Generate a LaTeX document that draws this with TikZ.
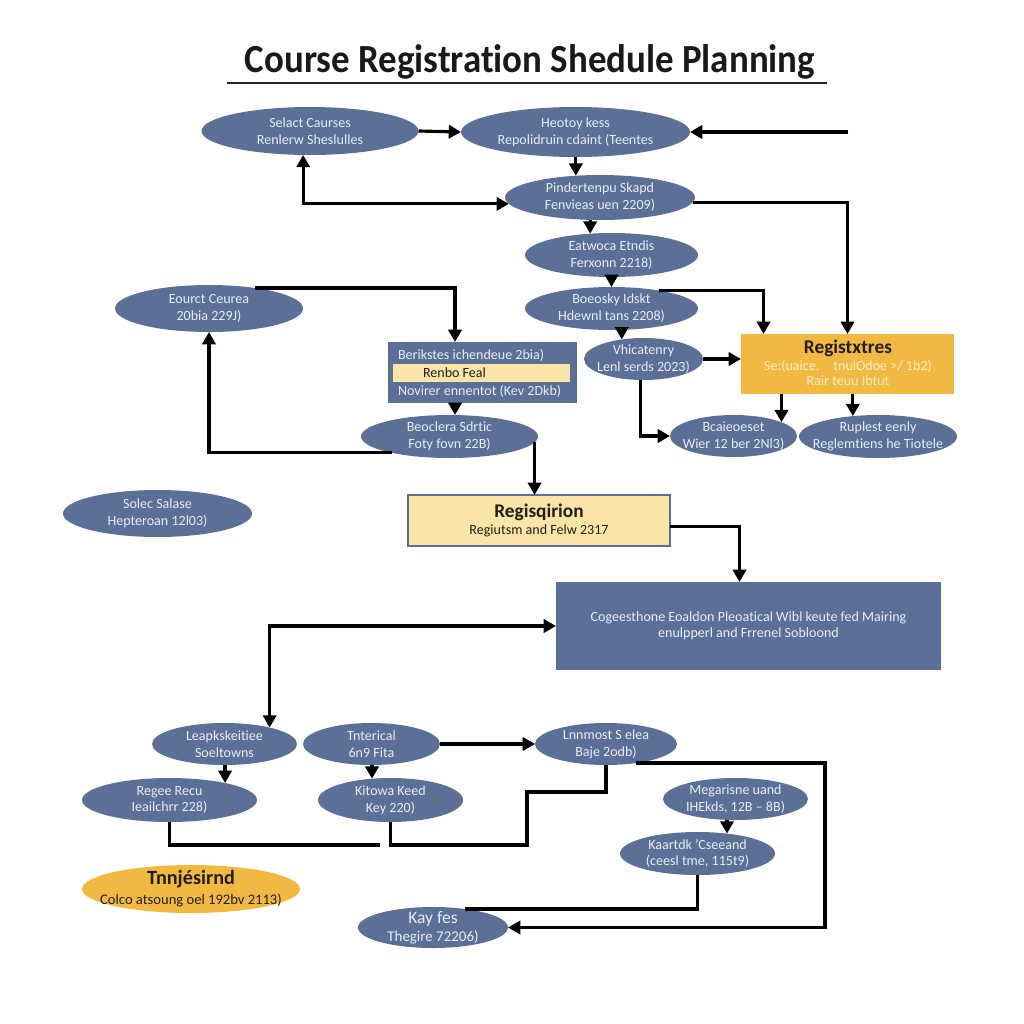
\documentclass[tikz,border=0pt]{standalone}
\usepackage{fontspec}
\setmainfont{Carlito}[Ligatures={TeX,NoCommon}]
\usetikzlibrary{shapes.geometric,arrows.meta}
\definecolor{nb}{RGB}{91,111,151}
\definecolor{ntext}{RGB}{232,236,243}
\definecolor{amber}{RGB}{242,185,66}
\definecolor{pale}{RGB}{251,229,166}
\definecolor{dark}{RGB}{35,30,25}
\definecolor{jlight}{RGB}{252,238,200}
\newcommand\tb[1]{\hbox to 0pt{\hss\vbox to 0pt{\vss\halign{\hfil##\hfil\cr#1\crcr}\vss}\hss}}
\tikzset{
  bub/.style 2 args={ellipse, fill=nb, draw=none, inner sep=0pt, outer sep=0pt,
    minimum width=#1*0.02cm, minimum height=#2*0.02cm, text=ntext,
    font=\fontsize{8}{9.6}\selectfont},
  boxr/.style 2 args={rectangle, inner sep=0pt, outer sep=0pt,
    minimum width=#1*0.02cm, minimum height=#2*0.02cm},
  tlab/.style={inner sep=0pt, outer sep=0pt, font=\fontsize{8}{9.6}\selectfont},
  arr/.style={draw=black, line width=1.8pt, -{Triangle[length=7pt,width=7.5pt]}},
  darr/.style={draw=black, line width=1.8pt, {Triangle[length=7pt,width=7.5pt]}-{Triangle[length=7pt,width=7.5pt]}},
  conn/.style={draw=black, line width=1.8pt}
}
\begin{document}
\begin{tikzpicture}[x=0.02cm,y=-0.02cm]
\fill[white] (0,0) rectangle (1024,1024);
\useasboundingbox (0,0) rectangle (1024,1024);

% title
\node[inner sep=0pt, text=black!90, font=\fontsize{21}{24}\selectfont\bfseries] (title) at (530,62) {\scalebox{1}[1.08]{Course Registration Shedule Planning}};
\draw[line width=1.1pt, black!85] (227,83) -- (827,83);

% ellipses
\node[bub={217}{48}] (A) at (310,131) {\tb{Selact Caurses\cr Renlerw Sheslulles}};
\node[bub={229}{50}] (B) at (575.5,132) {\tb{Heotoy kess\cr Repolidruin cdaint (Teentes}};
\node[bub={190}{45}] (C) at (600,197.5) {\tb{Pindertenpu Skapd\cr Fenvieas uen 2209)}};
\node[bub={173}{44}] (D) at (611.5,255) {\tb{Eatwoca Etndis\cr Ferxonn 2218)}};
\node[bub={173}{43}] (E) at (611.5,308.5) {\tb{Boeosky Idskt\cr Hdewnl tans 2208)}};
\node[bub={188}{47}] (F) at (209,308.5) {\tb{Eourct Ceurea\cr 20bia 229J)}};
\node[bub={177}{43}] (H) at (449.5,436.5) {\tb{Beoclera Sdrtic\cr Foty fovn 22B)}};
\node[bub={119}{42}] (I) at (643.5,359) {\tb{Vhicatenry\cr Lenl serds 2023)}};
\node[bub={127}{42}] (K) at (733.5,436) {\tb{Bcaieoeset\cr Wier 12 ber 2Nl3)}};
\node[bub={158}{43}] (L) at (878,436.5) {\tb{Ruplest eenly\cr Reglemtiens he Tiotele}};
\node[bub={189}{47}] (M) at (157.5,513.5) {\tb{Solec Salase\cr Hepteroan 12l03)}};
\node[bub={145}{42}] (P) at (224.5,744) {\tb{Leapkskeitiee\cr Soeltowns}};
\node[bub={137}{42}] (Q) at (371.5,744) {\tb{Tnterical\cr 6n9 Fita}};
\node[bub={142}{42}] (R) at (606,744) {\tb{Lnnmost S elea\cr Baje 2odb)}};
\node[bub={175}{44}] (S) at (169.5,800) {\tb{Regee Recu\cr Ieailchrr 228)}};
\node[bub={145}{44}] (T) at (390.5,800) {\tb{Kitowa Keed\cr Key 220)}};
\node[bub={145}{42}] (U) at (735.5,799) {\tb{Megarisne uand\cr IHEkds, 12B -- 8B)}};
\node[bub={155}{43}] (V) at (697.5,853.5) {\tb{Kaartdk 'Cseeand\cr (ceesl tme, 115t9)}};
\node[bub={150}{41}, font=\fontsize{8.5}{10}\selectfont] (X) at (433,927.5) {\tb{{\fontsize{10}{10}\selectfont Kay fes}\cr Thegire 72206)}};
\node[bub={218}{48}, fill=amber, text=dark, font=\fontsize{8.3}{11.3}\selectfont] (W) at (191,889) {\tb{{\fontsize{11.5}{11.5}\selectfont\bfseries Tnnjésirnd}\cr Colco atsoung oel 192bv 2113)}};

% rectangles
\node[boxr={189}{61}, fill=nb] (G) at (482.5,372.5) {};
\node[boxr={177}{18}, fill=pale] (Gs) at (481.5,373) {};
\node[tlab, text=ntext, anchor=west] (Gt1) at (398,355) {Berikstes ichendeue 2bia)};
\node[tlab, text=dark, anchor=west] (Gt2) at (423,373) {Renbo Feal};
\node[tlab, text=ntext, anchor=west] (Gt3) at (398,391) {Novirer ennentot (Kev 2Dkb)};

\node[boxr={213}{60}, fill=amber] (J) at (847.5,364) {};
\node[tlab, text=jlight] (Jt2) at (848,366) {Se:(uaice.\quad tnulOdoe >/ 1b2)};
\node[tlab, text=jlight] (Jt3) at (848,381) {Rair teuu Ibtut};
\node[tlab, text=dark, font=\fontsize{11}{11}\selectfont\bfseries] (Jt1) at (848,348) {Registxtres};

\node[boxr={262}{51}, fill=pale, draw=nb, line width=1.2pt, text=dark, font=\fontsize{8}{9.8}\selectfont] (N) at (539,520.5) {\tb{{\fontsize{11}{11}\selectfont\bfseries Regisqirion}\cr Regiutsm and Felw 2317}};

\node[boxr={385}{88}, fill=nb, text=ntext, font=\fontsize{8}{9.1}\selectfont] (O) at (748.5,626) {\tb{Cogeesthone Eoaldon Pleoatical Wibl keute fed Mairing\cr enulpperl and Frrenel Sobloond}};

% connectors
\coordinate (inR) at (848,132);
\draw[arr] (A.east) -- (B.west);
\draw[arr] (inR) -- (B.east);
\draw[arr] (C.138 |- B.south) -- (C.138);
\draw[darr] (A.254) |- (C.184);
\draw[arr] (D.135 |- C.south) -- (D.135);
\draw[arr] (C.357) -| (J.north);
\draw[arr] (D.south) -- (E.north);
\draw[arr] (E.21) -| ([xshift=-1.68cm]J.north);
\draw[arr] (I.138 |- E.south) -- (I.138);
\draw[arr] (I.east) -- (I.east -| J.west);
\draw[arr] ([xshift=-0.06cm]I.south) |- (K.west);
\draw[arr] (K.16 |- J.south) -- (K.16);
\draw[arr] (L.141 |- J.south) -- (L.141);
\draw[arr] (F.24) -| ([xshift=-0.55cm]G.north);
\draw[arr] ([xshift=-0.55cm]G.south) -- ([xshift=-0.55cm]G.south |- H.north);
\draw[arr] (H.196) -| (F.south);
\draw[arr] (H.356) -- (H.356 |- N.north);
\draw[arr] ([yshift=-0.12cm]N.east) -| ([xshift=-0.18cm]O.north);
\draw[darr] (P.20) |- (O.west);
\draw[arr] (S.17 |- P.south) -- (S.17);
\draw[arr] (T.131 |- Q.south) -- (T.131);
\draw[arr] (Q.east) -- (R.west);
\coordinate (sEnd) at (380,845);
\draw[conn] (S.south) |- (sEnd);
\coordinate (tj1) at (527,845);
\coordinate (tj2) at (527,792);
\draw[conn] (T.south) |- (tj1) -- (tj2) -| (R.south);
\coordinate (rx) at (825,800);
\draw[arr] (R.328) -| (rx) |- (X.east);
\draw[arr] (V.34 |- U.south) -- (V.34);
\draw[conn] (V.south) |- (X.30);
\end{tikzpicture}
\end{document}
